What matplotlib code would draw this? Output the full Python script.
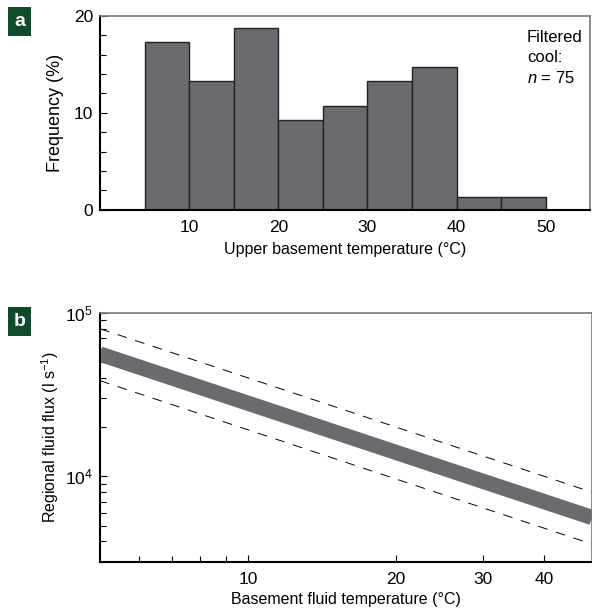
import matplotlib
matplotlib.use("Agg")
import matplotlib.pyplot as plt
from matplotlib.ticker import FixedLocator, NullFormatter, LogLocator

plt.rcParams['font.family'] = ['Liberation Sans', 'DejaVu Sans']
plt.rcParams['font.size'] = 12.5
plt.rcParams['mathtext.fontset'] = 'custom'
plt.rcParams['mathtext.it'] = 'Liberation Sans:italic'
plt.rcParams['mathtext.rm'] = 'Liberation Sans'

# panel a: histogram of upper basement temperature
bin_edges = [5, 10, 15, 20, 25, 30, 35, 40, 45, 50]
freq = [17.3, 13.3, 18.7, 9.3, 10.7, 13.3, 14.7, 1.3, 1.3]

# panel b: regional fluid flux vs basement temperature
temp = [5, 50]
flux_mid = [56000, 5600]
flux_upper = [80000, 8000]
flux_lower = [38500, 3850]

bar_col = '#6a6b6e'
label_col = '#0f4a2a'

fig = plt.figure(figsize=(5.92, 6.10), dpi=100)

ax1 = fig.add_axes([0.169, 0.656, 0.828, 0.318])
widths = [bin_edges[i+1] - bin_edges[i] for i in range(len(freq))]
ax1.bar(bin_edges[:-1], freq, width=widths, align='edge', color=bar_col,
        edgecolor='#222222', linewidth=1.0)
ax1.set_xlim(0, 55)
ax1.set_ylim(0, 20)
ax1.set_yticks([0, 10, 20])
ax1.yaxis.set_minor_locator(FixedLocator([2, 4, 6, 8, 12, 14, 16, 18]))
ax1.set_xticks([10, 20, 30, 40, 50])
ax1.tick_params(direction='in', length=5, width=0.8, pad=5)
ax1.tick_params(axis='y', which='minor', direction='in', length=4, width=0.8)
ax1.tick_params(axis='x', length=0, pad=7)
ax1.set_xlabel('Upper basement temperature (°C)', fontsize=11.5, labelpad=5)
ax1.set_ylabel('Frequency (%)', fontsize=13, labelpad=7)
ax1.text(0.871, 0.925, 'Filtered\ncool:\n$n$ = 75', transform=ax1.transAxes,
         ha='left', va='top', linespacing=1.4, fontsize=12)

ax2 = fig.add_axes([0.169, 0.079, 0.831, 0.408])
ax2.set_xscale('log')
ax2.set_yscale('log')
ax2.plot(temp, flux_mid, color=bar_col, linewidth=11, solid_capstyle='butt')
ax2.plot(temp, flux_upper, color='black', linewidth=0.7, dashes=(10, 9))
ax2.plot(temp, flux_lower, color='black', linewidth=0.7, dashes=(10, 9))
ax2.set_xlim(5, 50)
ax2.set_ylim(3000, 1e5)
ax2.set_xticks([10, 20, 30, 40])
ax2.set_xticklabels(['10', '20', '30', '40'])
ax2.xaxis.set_minor_locator(FixedLocator([6, 7, 8, 9]))
ax2.xaxis.set_minor_formatter(NullFormatter())
ax2.yaxis.set_major_locator(FixedLocator([1e4, 1e5]))
ax2.set_yticklabels(['10$^4$', '10$^5$'])
ax2.yaxis.set_minor_locator(LogLocator(base=10, subs=range(2, 10)))
ax2.yaxis.set_minor_formatter(NullFormatter())
ax2.tick_params(direction='in', length=5, width=0.8, pad=5)
ax2.tick_params(which='minor', direction='in', length=4, width=0.8)
ax2.tick_params(axis='x', pad=7)
ax2.set_xlabel('Basement fluid temperature (°C)', fontsize=11.5, labelpad=4)
ax2.set_ylabel('Regional fluid flux (l s$^{-1}$)', fontsize=11.5, labelpad=3)

for ax in (ax1, ax2):
    ax.spines['left'].set_linewidth(1.5)
    ax.spines['bottom'].set_linewidth(1.5)
    ax.spines['top'].set_color('#777777')
    ax.spines['right'].set_color('#777777')
    ax.spines['top'].set_linewidth(1.2)
    ax.spines['right'].set_linewidth(1.2)

for y, lab in [(0.965, 'a'), (0.473, 'b')]:
    fig.text(0.033, y, lab, color='white', fontweight='bold', fontsize=14,
             ha='center', va='center',
             bbox=dict(boxstyle='square,pad=0.3', facecolor=label_col, edgecolor='none'))

fig.savefig('out.png', dpi=100)
